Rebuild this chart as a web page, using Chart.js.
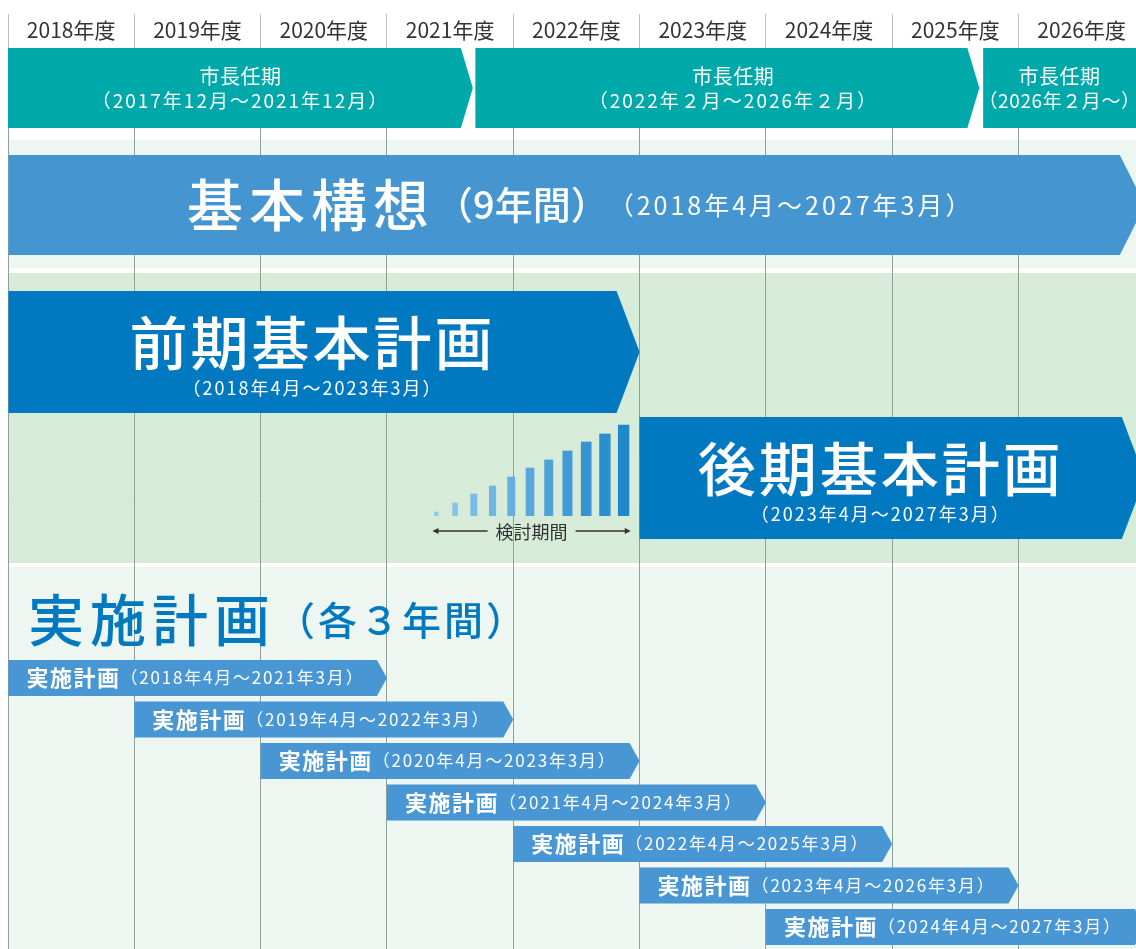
<!DOCTYPE html>
<html lang="ja">
<head>
<meta charset="utf-8">
<script src="https://cdn.jsdelivr.net/npm/chart.js@4.4.0/dist/chart.umd.min.js"></script>
<style>
  body { margin: 0; background: #fff; }
  #wrap { position: relative; width: 1136px; height: 949px; overflow: hidden; }
  #plan { position: absolute; left: 0; top: 0; }
  #review { position: absolute; left: 427px; top: 420px; }
</style>
</head>
<body>
<div id="wrap">
  <canvas id="plan" width="1136" height="949"></canvas>
  <canvas id="review" width="206" height="96"></canvas>
</div>
<script>
// fiscal years on the axis (0 = April 2018)
const years = ['2018年度', '2019年度', '2020年度', '2021年度', '2022年度', '2023年度', '2024年度', '2025年度', '2026年度'];

// mayor terms
const termPeriods = ['（2017年12月～2021年12月）', '（2022年２月～2026年２月）', '（2026年２月～）'];
const termStart = [-0.33, 3.7, 7.72];
const termEnd = [3.68, 7.69, 9.6];

// basic concept
const conceptPeriod = '（2018年4月～2027年3月）';
const conceptStart = 0;
const conceptEnd = 9;

// basic plans
const planNames = ['前期基本計画', '後期基本計画'];
const planPeriods = ['（2018年4月～2023年3月）', '（2023年4月～2027年3月）'];
const planStart = [0, 5];
const planEnd = [5, 9];

// implementation plans, 3 years each
const implPeriods = ['（2018年4月～2021年3月）', '（2019年4月～2022年3月）', '（2020年4月～2023年3月）',
  '（2021年4月～2024年3月）', '（2022年4月～2025年3月）', '（2023年4月～2026年3月）', '（2024年4月～2027年3月）'];
const implStart = [0, 1, 2, 3, 4, 5, 6];
const implEnd = [3, 4, 5, 6, 7, 8, 9];

// review period before the second plan
const reviewStart = 3.36;
const reviewEnd = 4.93;
const reviewBars = [4, 13, 22, 30, 39, 48, 56, 65, 74, 82, 91];

// layout (row centres, in pixels of the y axis)
const FONT = "'Noto Sans CJK JP', 'Noto Sans CJK SC', sans-serif";
const rows = { header: 30, term: 88, concept: 205, plans: [352, 478], impl: [678, 719.5, 761, 802.5, 844, 885.5, 927], implTitle: 620, review: 531 };
const bands = [[140, 268, '#edf6f0'], [273, 563, '#d6ebd8'], [567, 949, '#edf6f0']];

function bars(starts, ends, ys) {
  return starts.map((s, i) => ({ x: [s, ends[i]], y: ys[i] }));
}

function drawRuns(ctx, runs, x, y, align) {
  let total = 0;
  const widths = runs.map(r => {
    ctx.font = r[1];
    ctx.letterSpacing = (r[2] || 0) + 'px';
    const w = ctx.measureText(r[0]).width;
    total += w;
    return w;
  });
  let cx = align === 'center' ? x - total / 2 : x;
  ctx.textAlign = 'left';
  ctx.textBaseline = 'middle';
  runs.forEach((r, i) => {
    ctx.font = r[1];
    ctx.letterSpacing = (r[2] || 0) + 'px';
    ctx.fillText(r[0], cx, y);
    cx += widths[i];
  });
  ctx.letterSpacing = '0px';
}

const bandPlugin = {
  id: 'bands',
  beforeDraw(chart) {
    const { ctx, chartArea: a, scales: { x, y } } = chart;
    ctx.save();
    bands.forEach(b => {
      ctx.fillStyle = b[2];
      ctx.fillRect(a.left, y.getPixelForValue(b[0]), a.right - a.left, y.getPixelForValue(b[1]) - y.getPixelForValue(b[0]));
    });
    // year labels centred in each column
    ctx.fillStyle = '#333';
    years.forEach((label, i) => {
      drawRuns(ctx, [[label, `21px ${FONT}`, 0]], x.getPixelForValue(i + 0.5), rows.header, 'center');
    });
    ctx.restore();
  }
};

const arrowPlugin = {
  id: 'arrows',
  beforeDatasetDraw(chart, args) {
    const ds = chart.data.datasets[args.index];
    const { ctx, chartArea: a } = chart;
    ctx.save();
    ctx.beginPath();
    ctx.rect(a.left, a.top, a.right - a.left, a.bottom - a.top);
    ctx.clip();
    ctx.fillStyle = ds.backgroundColor;
    args.meta.data.forEach(el => {
      const { x, y, base, height } = el.getProps(['x', 'y', 'base', 'height'], true);
      const h = height / 2, d = ds.tip;
      ctx.beginPath();
      ctx.moveTo(base, y - h);
      ctx.lineTo(x - d, y - h);
      ctx.lineTo(x, y);
      ctx.lineTo(x - d, y + h);
      ctx.lineTo(base, y + h);
      ctx.closePath();
      ctx.fill();
    });
    ctx.restore();
    return false;
  },
  afterDatasetsDraw(chart) {
    const { ctx, chartArea: a, scales } = chart;
    ctx.save();
    ctx.fillStyle = '#fff';
    chart.data.datasets.forEach((ds, di) => {
      chart.getDatasetMeta(di).data.forEach((el, i) => {
        const { x, y, base } = el.getProps(['x', 'y', 'base'], true);
        const left = Math.max(base, a.left);
        if (ds.kind === 'term') {
          const cx = (left + Math.min(x, a.right)) / 2 + (i === 1 ? 6 : 0);
          drawRuns(ctx, [['市長任期', `20px ${FONT}`, 0.5]], cx, y - 12, 'center');
          drawRuns(ctx, [[termPeriods[i], `19px ${FONT}`, i === 2 ? 0.6 : 2]], cx, y + 13, 'center');
        } else if (ds.kind === 'concept') {
          const cx = (left + Math.min(x, a.right)) / 2 + 8;
          drawRuns(ctx, [['基本構想', `500 56px ${FONT}`, 6], ['（9年間）', `500 38px ${FONT}`, 0], [conceptPeriod, `25px ${FONT}`, 3]], cx, y, 'center');
        } else if (ds.kind === 'plan') {
          const cx = (left + Math.min(x - ds.tip, a.right)) / 2;
          drawRuns(ctx, [[planNames[i], `500 58px ${FONT}`, 3]], cx, y - 9, 'center');
          drawRuns(ctx, [[planPeriods[i], `18px ${FONT}`, 2]], cx, y + 36, 'center');
        } else if (ds.kind === 'impl') {
          drawRuns(ctx, [['実施計画', `bold 22px ${FONT}`, 1.5], [implPeriods[i], `17px ${FONT}`, 1.8]], base + 18, y, 'left');
        }
      });
    });
    // section title
    ctx.fillStyle = '#0079c1';
    drawRuns(ctx, [['実施計画', `500 56px ${FONT}`, 6], ['（各３年間）', `500 39px ${FONT}`, 3]],
      scales.x.getPixelForValue(0) + 20, scales.y.getPixelForValue(rows.implTitle), 'left');
    // review period arrow
    const x0 = scales.x.getPixelForValue(reviewStart), x1 = scales.x.getPixelForValue(reviewEnd);
    const ry = scales.y.getPixelForValue(rows.review), mid = (x0 + x1) / 2;
    ctx.fillStyle = '#333';
    ctx.strokeStyle = '#333';
    ctx.lineWidth = 1.4;
    drawRuns(ctx, [['検討期間', `18px ${FONT}`, 0]], mid, ry + 1, 'center');
    ctx.beginPath();
    ctx.moveTo(x0 + 2, ry); ctx.lineTo(mid - 44, ry);
    ctx.moveTo(mid + 44, ry); ctx.lineTo(x1 - 2, ry);
    ctx.stroke();
    [[x0, 1], [x1, -1]].forEach(([px, dir]) => {
      ctx.beginPath();
      ctx.moveTo(px, ry);
      ctx.lineTo(px + dir * 6, ry - 3);
      ctx.lineTo(px + dir * 6, ry + 3);
      ctx.closePath();
      ctx.fill();
    });
    ctx.restore();
  }
};

new Chart(document.getElementById('plan'), {
  type: 'bar',
  data: {
    datasets: [
      { kind: 'term', data: bars(termStart, termEnd, termStart.map(() => rows.term)), barThickness: 80, tip: 12, backgroundColor: '#00a9a9' },
      { kind: 'concept', data: bars([conceptStart], [conceptEnd], [rows.concept]), barThickness: 100, tip: 25, backgroundColor: '#4595d1' },
      { kind: 'plan', data: bars(planStart, planEnd, rows.plans), barThickness: 122, tip: 23, backgroundColor: '#0079c1' },
      { kind: 'impl', data: bars(implStart, implEnd, rows.impl), barThickness: 36, tip: 10, backgroundColor: '#4896d3' }
    ]
  },
  options: {
    indexAxis: 'y',
    responsive: false,
    animation: false,
    events: [],
    grouped: false,
    layout: { autoPadding: false, padding: { left: 8, right: 0, top: 14, bottom: 0 } },
    plugins: { legend: { display: false }, tooltip: { enabled: false } },
    scales: {
      x: {
        type: 'linear', position: 'top', min: 0, max: 8.93, offset: false,
        afterBuildTicks: s => { s.ticks = years.map((_, i) => ({ value: i })); },
        ticks: { display: false },
        grid: { color: '#8fa098', tickColor: '#bdbdbd', tickLength: 34, offset: false },
        border: { display: false }
      },
      y: { type: 'linear', display: false, reverse: true, min: 48, max: 949, offset: false, grid: { offset: false } }
    }
  },
  plugins: [bandPlugin, arrowPlugin]
});

// review period: growing bars
const reviewWidths = [4, 5, 6.3, 6.5, 7.3, 8, 8.3, 9.3, 10, 10.7, 10.7];
const reviewColors = reviewBars.map((_, i) => {
  const t = i / (reviewBars.length - 1);
  const c = [[0x93, 0x1f], [0xc8, 0x88], [0xee, 0xca]].map(([a, b]) => Math.round(a + (b - a) * t));
  return `rgb(${c[0]},${c[1]},${c[2]})`;
});
new Chart(document.getElementById('review'), {
  type: 'bar',
  data: {
    labels: reviewBars.map((_, i) => i + 1),
    datasets: reviewBars.map((v, i) => ({
      data: reviewBars.map((w, j) => (j === i ? w : null)),
      backgroundColor: reviewColors[i],
      barThickness: reviewWidths[i]
    }))
  },
  options: {
    responsive: false,
    animation: false,
    events: [],
    grouped: false,
    layout: { autoPadding: false, padding: 0 },
    plugins: { legend: { display: false }, tooltip: { enabled: false } },
    scales: { x: { display: false }, y: { display: false, min: 0, max: 96 } }
  }
});
</script>
</body>
</html>
